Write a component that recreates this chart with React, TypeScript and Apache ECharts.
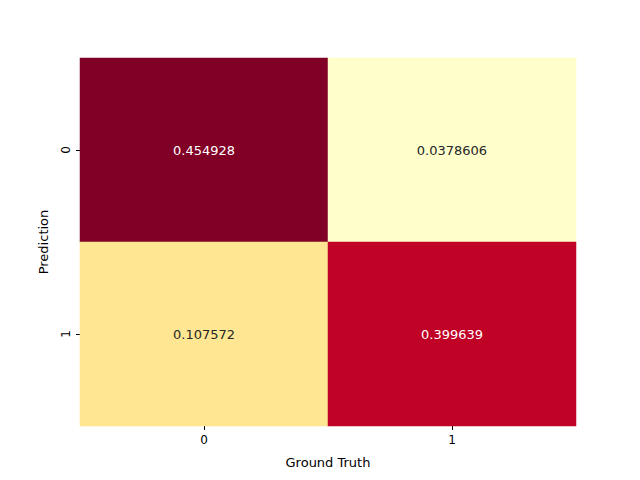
import React, { useEffect, useRef } from 'react';
import * as echarts from 'echarts';

const groundTruth = ['0', '1'];
const prediction = ['0', '1'];
// [gtIndex, predIndex, value]
const cells: [number, number, number][] = [
  [0, 0, 0.454928],
  [1, 0, 0.0378606],
  [0, 1, 0.107572],
  [1, 1, 0.399639],
];
const ylOrRd = ['#ffffcc', '#ffeda0', '#fed976', '#feb24c', '#fd8d3c', '#fc4e2a', '#e31a1c', '#bd0026', '#800026'];

const App: React.FC = () => {
  const chartRef = useRef<HTMLDivElement>(null);

  useEffect(() => {
    if (!chartRef.current) return;
    const chart = echarts.init(chartRef.current, undefined, { renderer: 'svg' });
    const values = cells.map(c => c[2]);
    const vmin = Math.min(...values);
    const vmax = Math.max(...values);
    const font = 'DejaVu Sans';

    chart.setOption({
      animation: false,
      textStyle: { fontFamily: font },
      grid: { left: 80, right: 64, top: 58, bottom: 54 },
      xAxis: {
        type: 'category',
        data: groundTruth,
        name: 'Ground Truth',
        nameLocation: 'middle',
        nameGap: 30,
        nameTextStyle: { color: '#000', fontSize: 13, fontFamily: font },
        axisLine: { show: false },
        axisTick: { show: true, alignWithLabel: true, length: 4, lineStyle: { color: '#000' } },
        axisLabel: { color: '#000', fontSize: 12, margin: 8 },
        splitLine: { show: false },
      },
      yAxis: {
        type: 'category',
        data: prediction,
        inverse: true,
        name: 'Prediction',
        nameLocation: 'middle',
        nameGap: 30,
        nameTextStyle: { color: '#000', fontSize: 13, fontFamily: font },
        axisLine: { show: false },
        axisTick: { show: true, alignWithLabel: true, length: 4, lineStyle: { color: '#000' } },
        axisLabel: { color: '#000', fontSize: 12, rotate: 90, margin: 8 },
        splitLine: { show: false },
      },
      visualMap: {
        show: false,
        min: vmin,
        max: vmax,
        dimension: 2,
        inRange: { color: ylOrRd },
      },
      series: [
        {
          type: 'heatmap',
          data: cells.map(c => ({
            value: c,
            label: { color: (c[2] - vmin) / (vmax - vmin) > 0.5 ? '#ffffff' : '#262626' },
          })),
          label: {
            show: true,
            fontSize: 13,
            fontFamily: font,
            formatter: (p: any) => String(p.value[2]),
          },
          itemStyle: { borderWidth: 0 },
        },
      ],
    });

    return () => chart.dispose();
  }, []);

  return (
    <div
      ref={chartRef}
      style={{ position: 'absolute', left: 0, top: 0, width: 640, height: 480, background: '#fff' }}
    />
  );
};

export default App;
